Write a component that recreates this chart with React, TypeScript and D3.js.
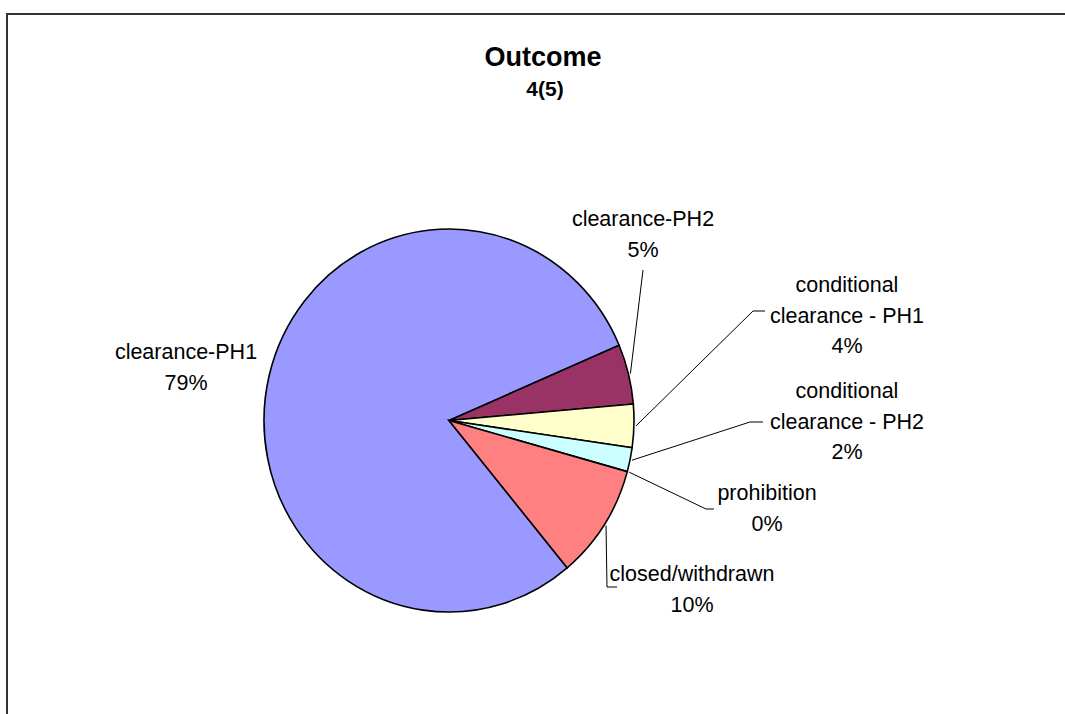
import React from "react";
import * as d3 from "d3";

const categories = [
  "clearance-PH1",
  "clearance-PH2",
  "conditional clearance - PH1",
  "conditional clearance - PH2",
  "prohibition",
  "closed/withdrawn",
];
const values = [79.6, 5.06, 3.64, 2.03, 0, 9.67];
const labelLines = [
  ["clearance-PH1", "79%"],
  ["clearance-PH2", "5%"],
  ["conditional", "clearance - PH1", "4%"],
  ["conditional", "clearance - PH2", "2%"],
  ["prohibition", "0%"],
  ["closed/withdrawn", "10%"],
];
const colors = ["#9999FF", "#993366", "#FFFFCC", "#CCFFFF", "#660066", "#FF8080"];

const W = 1065;
const H = 714;
const cx = 449;
const cy = 420.5;
const ry = 191.5;
const rx = 185;
const startDeg = 140.3;

const labelPos = [
  { x: 186, y: 359 },
  { x: 643, y: 226 },
  { x: 847, y: 292 },
  { x: 847, y: 398 },
  { x: 767, y: 500 },
  { x: 692, y: 581 },
];
const leaders: ([number, number][] | null)[] = [
  null,
  [[643, 270]],
  [[753, 311], [765, 311]],
  [[750, 422], [763, 422]],
  [[706, 509], [714, 509]],
  [[607, 587], [617, 587]],
];

export default function App() {
  const pie = d3
    .pie<number>()
    .sort(null)
    .value((d) => d)
    .startAngle((startDeg * Math.PI) / 180)
    .endAngle(((startDeg + 360) * Math.PI) / 180);
  const arcs = pie(values);
  const arcGen = d3.arc<d3.PieArcDatum<number>>().innerRadius(0).outerRadius(ry);
  const sx = rx / ry;
  const font = "Arial, 'Liberation Sans', sans-serif";

  return (
    <svg
      width={W}
      height={H}
      style={{ position: "absolute", left: 0, top: 0, background: "#fff" }}
    >
      <line x1={7} y1={14} x2={W} y2={14} stroke="#333" strokeWidth={2} />
      <line x1={7} y1={13} x2={7} y2={H} stroke="#333" strokeWidth={2} />
      <text x={543} y={66} textAnchor="middle" fontFamily={font} fontWeight="bold" fontSize={27}>
        Outcome
      </text>
      <text x={545} y={96} textAnchor="middle" fontFamily={font} fontWeight="bold" fontSize={21}>
        4(5)
      </text>
      <g transform={`translate(${cx},${cy}) scale(${sx},1)`}>
        {arcs.map((a, i) =>
          a.endAngle - a.startAngle > 1e-6 ? (
            <path
              key={categories[i]}
              d={arcGen(a) || ""}
              fill={colors[i]}
              stroke="#000"
              strokeWidth={1.6}
              vectorEffect="non-scaling-stroke"
            />
          ) : null
        )}
      </g>
      {arcs.map((a, i) => {
        const pts = leaders[i];
        if (!pts) return null;
        const mid = (a.startAngle + a.endAngle) / 2;
        const sxp = cx + (rx + 2) * Math.sin(mid);
        const syp = cy - (ry + 2) * Math.cos(mid);
        const d = d3.line()([[sxp, syp], ...pts]) || "";
        return <path key={"l" + i} d={d} fill="none" stroke="#000" strokeWidth={1} />;
      })}
      {labelLines.map((lines, i) => (
        <text
          key={"t" + i}
          x={labelPos[i].x}
          y={labelPos[i].y}
          textAnchor="middle"
          fontFamily={font}
          fontSize={21.5}
          fill="#000"
        >
          {lines.map((ln, j) => (
            <tspan key={j} x={labelPos[i].x} dy={j === 0 ? 0 : 30.5}>
              {ln}
            </tspan>
          ))}
        </text>
      ))}
    </svg>
  );
}
